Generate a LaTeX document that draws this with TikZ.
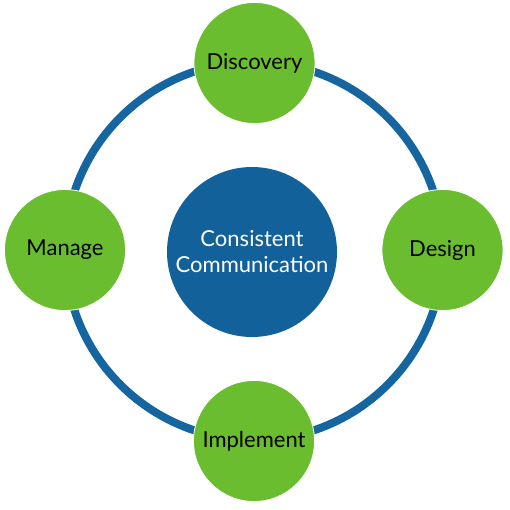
\documentclass[tikz,border=0pt]{standalone}
\usepackage{fontspec}
\setmainfont{Lato}
\definecolor{ringblue}{HTML}{1565A0}
\definecolor{hubblue}{HTML}{12619A}
\definecolor{leafgreen}{HTML}{6ABD2E}
\begin{document}
\begin{tikzpicture}[x=1pt,y=-1pt,
  leaf/.style={circle,fill=leafgreen,draw=white,line width=0.8pt,minimum size=121pt,inner sep=0pt,font=\fontsize{22}{26}\selectfont,text=black},
  hub/.style={circle,fill=hubblue,minimum size=170pt,inner sep=0pt,font=\fontsize{22}{26}\selectfont,text=white,align=center}]
\useasboundingbox (0,0) rectangle (510,510);
\coordinate (c) at (254,251);
\draw[ringblue,line width=8pt] (c) circle[radius=189];
\node[hub] (hub) at (252,252) {Consistent\\Communication};
\node[leaf] (disc) at (254.5,63) {Discovery};
\node[leaf] (des) at (442.5,250) {Design};
\node[leaf] (impl) at (254,441) {Implement};
\node[leaf] (man) at (65,250) {Manage};
\end{tikzpicture}
\end{document}
